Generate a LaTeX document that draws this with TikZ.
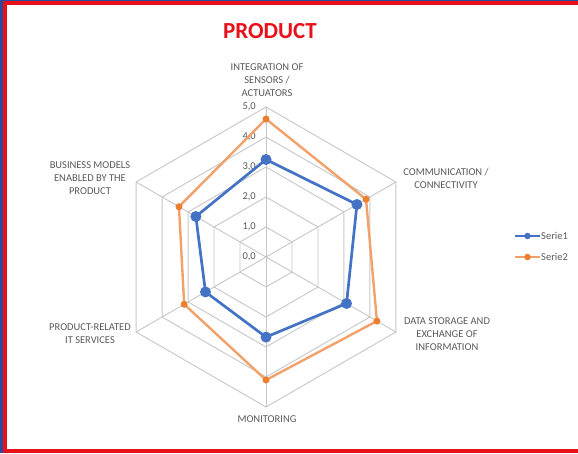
\documentclass[tikz,border=0pt]{standalone}
\usepackage{fontspec}
\setmainfont{Carlito}
\usetikzlibrary{positioning}
\definecolor{xlblue}{HTML}{4472C4}
\definecolor{xlorange}{HTML}{ED7D31}
\definecolor{xlgrid}{HTML}{C6C6C6}
\definecolor{xltext}{HTML}{595959}
\definecolor{framered}{HTML}{E8101A}
\definecolor{frameblue}{HTML}{2B4C9B}

\begin{document}
\begin{tikzpicture}[x=1pt,y=1pt,
	axislabel/.style={text=xltext, font=\fontsize{10.5}{13}\selectfont, align=center, inner sep=1pt},
	ticklabel/.style={text=xltext, font=\fontsize{10.5}{13}\selectfont, anchor=east, inner sep=1pt},
	gridline/.style={draw=xlgrid, line width=0.9pt},
	bline/.style={draw=xlblue, line width=2.7pt, line join=round},
	oline/.style={draw=xlorange!72!white, line width=2.4pt, line join=round},
	bdot/.style={circle, fill=xlblue, minimum size=11pt, inner sep=0pt},
	odot/.style={circle, fill=xlorange, minimum size=7pt, inner sep=0pt}
	]
	\useasboundingbox (0,0) rectangle (578,453);
	
	\fill[frameblue] (0,0) rectangle (3,453);
	\fill[frameblue] (0,451.5) rectangle (578,453);
	\fill[framered] (3,0) rectangle (7,451.5);
	\fill[framered] (3,447.5) rectangle (578,451.5);
	\fill[framered] (3,0) rectangle (578,4);
	
	\node[font=\fontsize{23}{26}\selectfont\bfseries, text=framered] (title) at (270,422) {PRODUCT};
	
	\begin{scope}[shift={(266,196)}]
	\coordinate (c) at (0,0);
	\foreach \k in {1,...,5}
		\draw[gridline] (90:\k*30) \foreach \a in {30,-30,-90,-150,150} {-- (\a:\k*30)} -- cycle;
	\foreach \a in {90,30,-30,-90,-150,150}
		\draw[gridline] (c) -- (\a:150);
	\foreach \v in {0,...,5}
		\node[ticklabel] (t\v) at (-9,\v*30) {\v,0};
	
	\node[axislabel] (integ) at (1,177) {INTEGRATION OF\\SENSORS /\\ACTUATORS};
	\node[axislabel] (comm) at (180,78.5) {COMMUNICATION /\\CONNECTIVITY};
	\node[axislabel] (data) at (181,-77) {DATA STORAGE AND\\EXCHANGE OF\\INFORMATION};
	\node[axislabel] (monit) at (1,-162) {MONITORING};
	\node[axislabel] (prod) at (-176,-76.5) {PRODUCT-RELATED\\IT SERVICES};
	\node[axislabel] (bus) at (-176,79) {BUSINESS MODELS\\ENABLED BY THE\\PRODUCT};
	
	\foreach \v [count=\i] in {3.25,3.5,3.1,2.67,2.33,2.7}
		\coordinate (b\i) at ({150-60*\i}:\v*30);
	\foreach \v [count=\i] in {4.6,3.85,4.27,4.1,3.15,3.35}
		\coordinate (o\i) at ({150-60*\i}:\v*30);
	
	\draw[bline] (b1) -- (b2) -- (b3) -- (b4) -- (b5) -- (b6) -- cycle;
	\foreach \i in {1,...,6}
		\node[bdot] at (b\i) {};
	\draw[oline] (o1) -- (o2) -- (o3) -- (o4) -- (o5) -- (o6) -- cycle;
	\foreach \i in {1,...,6}
		\node[odot] at (o\i) {};
	\end{scope}
	
	\coordinate (l1a) at (515,217);
	\coordinate (l1b) at (540,217);
	\coordinate (l2a) at (515,196);
	\coordinate (l2b) at (540,196);
	\draw[bline] (l1a) -- (l1b);
	\node[bdot, minimum size=6.5pt] at (527.5,217) {};
	\node[axislabel, anchor=west] (s1) at (540,217) {Serie1};
	\draw[oline] (l2a) -- (l2b);
	\node[odot, minimum size=6.5pt] at (527.5,196) {};
	\node[axislabel, anchor=west] (s2) at (540,196) {Serie2};
\end{tikzpicture}
\end{document}
